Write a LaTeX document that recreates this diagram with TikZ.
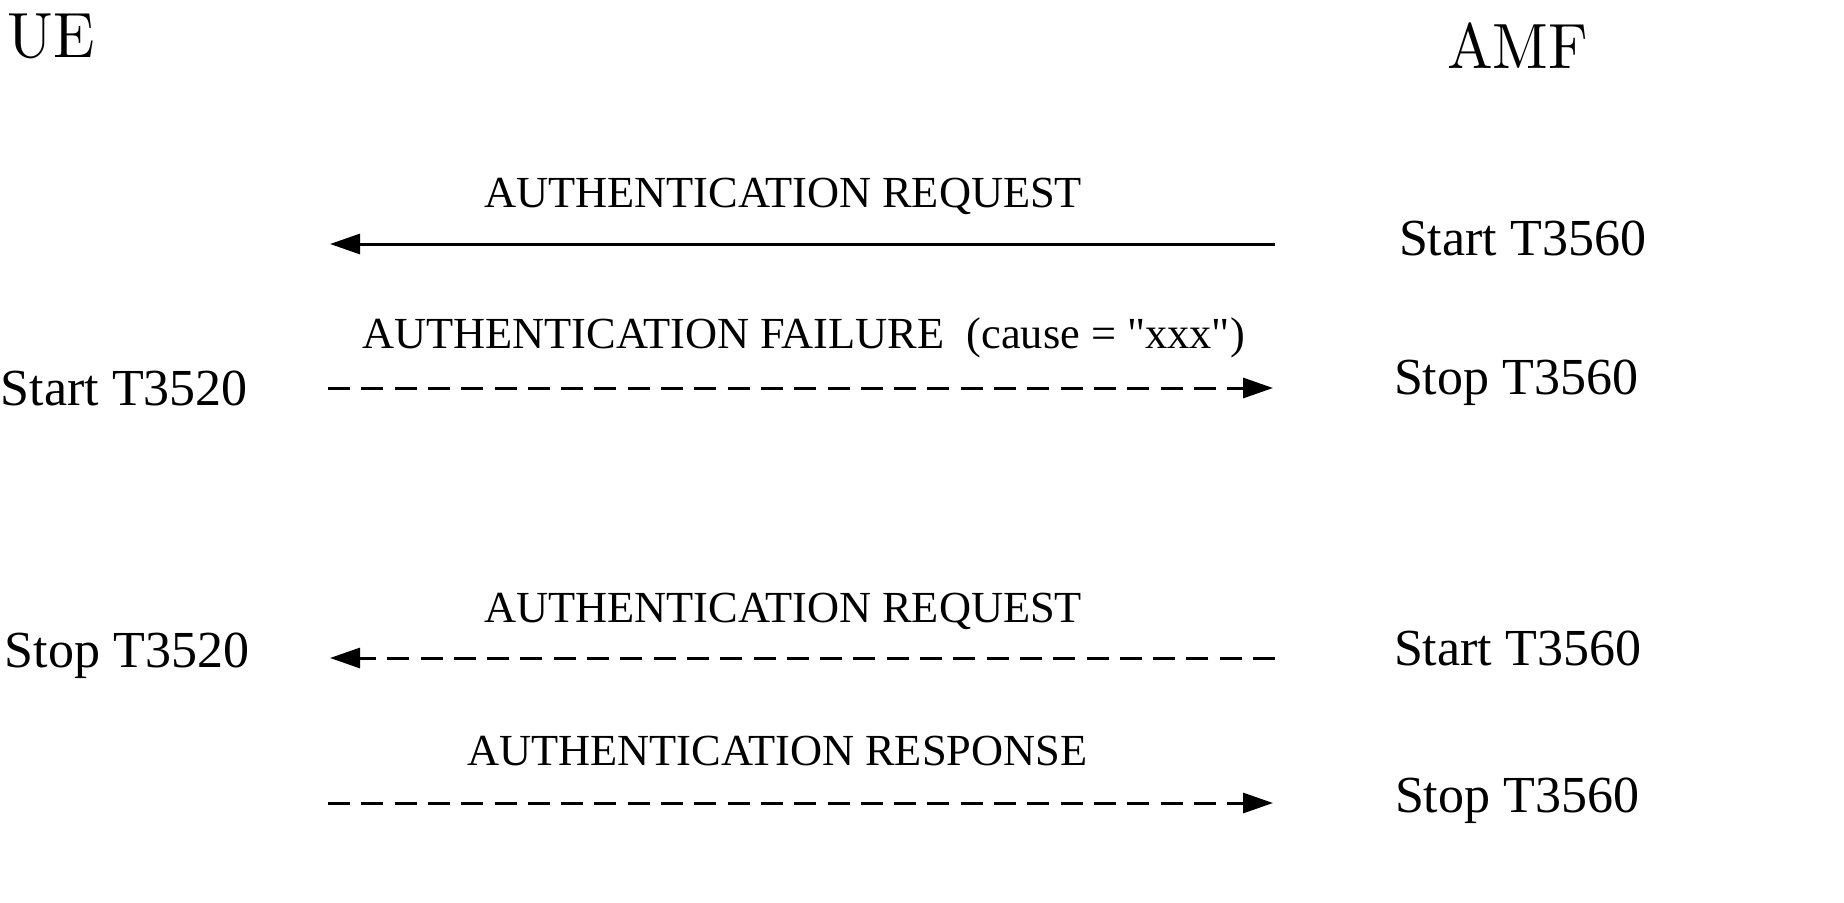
\documentclass[tikz,border=0pt]{standalone}
\usepackage{fontspec}
\newfontfamily\tnr{Liberation Serif}
\newfontfamily\lmten{lmroman10-regular.otf}
\usetikzlibrary{arrows.meta}
\begin{document}
\begin{tikzpicture}[x=1pt,y=-1pt,
  lbl/.style={anchor=base west,inner sep=0pt,outer sep=0pt},
  ent/.style={lbl,font=\lmten\fontsize{64}{70}\selectfont},
  timer/.style={lbl,font=\tnr\fontsize{52}{58}\selectfont},
  msg/.style={lbl,font=\tnr\fontsize{44.4}{50}\selectfont},
  flow/.style={line width=3pt,-{Triangle[length=30pt,width=20pt]}},
  dflow/.style={flow,dash pattern=on 22pt off 11.3pt}]
\useasboundingbox (0,0) rectangle (1844,902);
% entities
\node[ent] (ue) at (8,57) {\scalebox{0.95}[1]{UE}};
\node[ent] (amf) at (1447,68) {\scalebox{0.95}[1]{AMF}};
% timers
\node[timer] (t1) at (1399,255) {Start T3560};
\node[timer] (t2) at (1394,394) {Stop T3560};
\node[timer] (t3) at (1394,665) {Start T3560};
\node[timer] (t4) at (1395,812) {Stop T3560};
\node[timer] (u1) at (1,405) {Start T3520};
\node[timer] (u2) at (5,667) {Stop T3520};
% messages
\node[msg] (m1) at (484,207) {AUTHENTICATION REQUEST};
\node[msg] (m2) at (362,348) {AUTHENTICATION FAILURE\ \ (cause = "xxx")};
\node[msg] (m3) at (484,622) {AUTHENTICATION REQUEST};
\node[msg] (m4) at (467,765) {AUTHENTICATION RESPONSE};
% arrow ends
\coordinate (a1) at (1275,244); \coordinate (b1) at (330,244);
\coordinate (a2) at (328,388);  \coordinate (b2) at (1273,388);
\coordinate (a3) at (1275,658); \coordinate (b3) at (330,658);
\coordinate (a4) at (328,803);  \coordinate (b4) at (1273,803);
\draw[flow] (a1) -- (b1);
\draw[dflow] (a2) -- (b2);
\draw[dflow] (a3) -- (b3);
\draw[dflow] (a4) -- (b4);
\end{tikzpicture}
\end{document}
